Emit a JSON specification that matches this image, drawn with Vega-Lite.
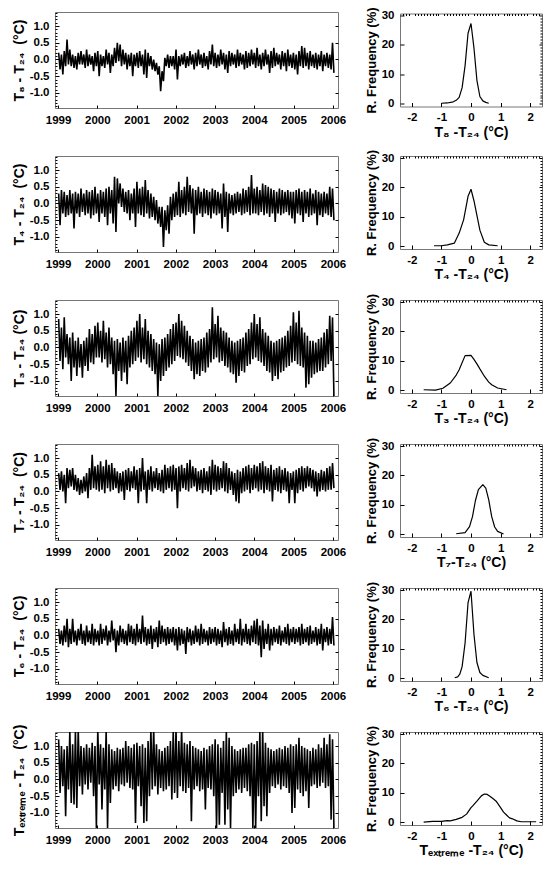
{
"$schema": "https://vega.github.io/schema/vega-lite/v6.json",
"background": "white",
"padding": {"left": 11, "top": 6, "right": 2, "bottom": 2},
"columns": 2,
"spacing": {"row": 48, "column": 62},
"bounds": "flush",
"align": "each",
"center": {"row": true},
"config": {
  "font": "Liberation Sans",
  "view": {"stroke": "#777777", "strokeWidth": 1},
  "line": {"strokeJoin": "bevel"},
  "axis": {"domain": false, "grid": false, "ticks": true, "tickColor": "black", "tickWidth": 1, "tickSize": -4,
    "labelFont": "Liberation Sans", "labelFontWeight": "bold", "labelFontSize": 11.5, "labelColor": "black",
    "labelFlush": false, "labelOverlap": false, "labelPadding": 10,
    "titleFont": "Liberation Sans", "titleFontWeight": "bold", "titleFontSize": 13, "titleColor": "black"}
},
"datasets": {
"s8": [{"d":5,"v":0.2},{"d":18,"v":-0.3},{"d":31,"v":0.15},{"d":44,"v":-0.45},{"d":57,"v":0.25},{"d":70,"v":-0.2},{"d":83,"v":0.6},{"d":96,"v":-0.15},{"d":109,"v":0.3},{"d":122,"v":-0.2},{"d":135,"v":0.15},{"d":148,"v":-0.25},{"d":161,"v":0.1},{"d":174,"v":-0.3},{"d":187,"v":0.2},{"d":200,"v":-0.15},{"d":213,"v":0.25},{"d":226,"v":-0.15},{"d":239,"v":0.15},{"d":252,"v":-0.25},{"d":265,"v":0.3},{"d":278,"v":-0.2},{"d":291,"v":0.15},{"d":304,"v":-0.15},{"d":317,"v":0.1},{"d":330,"v":-0.35},{"d":343,"v":0.2},{"d":356,"v":-0.2},
{"d":369,"v":0.25},{"d":382,"v":-0.5},{"d":395,"v":0.15},{"d":408,"v":-0.2},{"d":421,"v":0.1},{"d":434,"v":-0.25},{"d":447,"v":0.3},{"d":460,"v":-0.15},{"d":473,"v":0.2},{"d":486,"v":-0.4},{"d":499,"v":0.15},{"d":512,"v":-0.2},{"d":525,"v":0.35},{"d":538,"v":-0.1},{"d":551,"v":0.5},{"d":564,"v":-0.05},{"d":577,"v":0.45},{"d":590,"v":-0.2},{"d":603,"v":0.3},{"d":616,"v":-0.15},{"d":629,"v":0.2},{"d":642,"v":-0.3},{"d":655,"v":0.15},{"d":668,"v":-0.2},{"d":681,"v":0.2},{"d":694,"v":-0.5},{"d":707,"v":0.15},{"d":720,"v":-0.2},
{"d":733,"v":0.2},{"d":746,"v":-0.25},{"d":759,"v":0.25},{"d":772,"v":-0.2},{"d":785,"v":0.15},{"d":798,"v":-0.45},{"d":811,"v":0.3},{"d":824,"v":-0.55},{"d":837,"v":0.2},{"d":850,"v":-0.2},{"d":863,"v":0.1},{"d":876,"v":-0.3},{"d":889,"v":0},{"d":902,"v":-0.35},{"d":915,"v":-0.1},{"d":928,"v":-0.45},{"d":941,"v":-0.2},{"d":954,"v":-0.95},{"d":967,"v":-0.35},{"d":980,"v":-0.65},{"d":993,"v":0.05},{"d":1006,"v":-0.2},{"d":1019,"v":0.15},{"d":1032,"v":-0.25},{"d":1045,"v":0.1},{"d":1058,"v":-0.2},{"d":1071,"v":0.1},{"d":1084,"v":-0.3},
{"d":1097,"v":0.3},{"d":1110,"v":-0.6},{"d":1123,"v":0.1},{"d":1136,"v":-0.2},{"d":1149,"v":0.15},{"d":1162,"v":-0.15},{"d":1175,"v":0.2},{"d":1188,"v":-0.25},{"d":1201,"v":0.1},{"d":1214,"v":-0.2},{"d":1227,"v":0.25},{"d":1240,"v":-0.15},{"d":1253,"v":0.15},{"d":1266,"v":-0.3},{"d":1279,"v":0.2},{"d":1292,"v":-0.2},{"d":1305,"v":0.3},{"d":1318,"v":-0.15},{"d":1331,"v":0.15},{"d":1344,"v":-0.25},{"d":1357,"v":0.2},{"d":1370,"v":-0.2},{"d":1383,"v":0.1},{"d":1396,"v":-0.3},{"d":1409,"v":0.25},{"d":1422,"v":-0.15},{"d":1435,"v":0.45},{"d":1448,"v":-0.2},
{"d":1461,"v":0.2},{"d":1474,"v":-0.25},{"d":1487,"v":0.15},{"d":1500,"v":-0.2},{"d":1513,"v":0.3},{"d":1526,"v":-0.15},{"d":1539,"v":0.2},{"d":1552,"v":-0.3},{"d":1565,"v":0.15},{"d":1578,"v":-0.4},{"d":1591,"v":0.25},{"d":1604,"v":-0.2},{"d":1617,"v":0.2},{"d":1630,"v":-0.15},{"d":1643,"v":0.15},{"d":1656,"v":-0.25},{"d":1669,"v":0.3},{"d":1682,"v":-0.2},{"d":1695,"v":0.2},{"d":1708,"v":-0.15},{"d":1721,"v":0.15},{"d":1734,"v":-0.3},{"d":1747,"v":0.25},{"d":1760,"v":-0.25},{"d":1773,"v":0.2},{"d":1786,"v":-0.2},{"d":1799,"v":0.3},{"d":1812,"v":-0.15},
{"d":1825,"v":0.2},{"d":1838,"v":-0.25},{"d":1851,"v":0.35},{"d":1864,"v":-0.2},{"d":1877,"v":0.15},{"d":1890,"v":-0.3},{"d":1903,"v":0.2},{"d":1916,"v":-0.2},{"d":1929,"v":0.3},{"d":1942,"v":-0.15},{"d":1955,"v":0.15},{"d":1968,"v":-0.4},{"d":1981,"v":0.25},{"d":1994,"v":-0.25},{"d":2007,"v":0.35},{"d":2020,"v":-0.2},{"d":2033,"v":0.2},{"d":2046,"v":-0.15},{"d":2059,"v":0.15},{"d":2072,"v":-0.3},{"d":2085,"v":0.25},{"d":2098,"v":-0.2},{"d":2111,"v":0.2},{"d":2124,"v":-0.35},{"d":2137,"v":0.3},{"d":2150,"v":-0.2},{"d":2163,"v":0.15},{"d":2176,"v":-0.25},
{"d":2189,"v":0.2},{"d":2202,"v":-0.3},{"d":2215,"v":0.15},{"d":2228,"v":-0.45},{"d":2241,"v":0.25},{"d":2254,"v":-0.2},{"d":2267,"v":0.4},{"d":2280,"v":-0.25},{"d":2293,"v":0.35},{"d":2306,"v":-0.2},{"d":2319,"v":0.2},{"d":2332,"v":-0.3},{"d":2345,"v":0.25},{"d":2358,"v":-0.2},{"d":2371,"v":0.15},{"d":2384,"v":-0.25},{"d":2397,"v":0.2},{"d":2410,"v":-0.3},{"d":2423,"v":0.15},{"d":2436,"v":-0.2},{"d":2449,"v":0.25},{"d":2462,"v":-0.35},{"d":2475,"v":0.15},{"d":2488,"v":-0.2},{"d":2501,"v":0.2},{"d":2514,"v":-0.25},{"d":2527,"v":0.15},{"d":2540,"v":-0.3},
{"d":2553,"v":0.5},{"d":2566,"v":-0.4}],
"s4": [{"d":5,"v":0.3},{"d":18,"v":-0.65},{"d":31,"v":0.4},{"d":44,"v":-0.3},{"d":57,"v":0.35},{"d":70,"v":-0.4},{"d":83,"v":0.25},{"d":96,"v":-0.35},{"d":109,"v":0.4},{"d":122,"v":-0.3},{"d":135,"v":0.3},{"d":148,"v":-0.75},{"d":161,"v":0.35},{"d":174,"v":-0.3},{"d":187,"v":0.3},{"d":200,"v":-0.4},{"d":213,"v":0.45},{"d":226,"v":-0.25},{"d":239,"v":0.3},{"d":252,"v":-0.35},{"d":265,"v":0.4},{"d":278,"v":-0.3},{"d":291,"v":0.35},{"d":304,"v":-0.45},{"d":317,"v":0.4},{"d":330,"v":-0.35},{"d":343,"v":0.5},{"d":356,"v":-0.3},
{"d":369,"v":0.3},{"d":382,"v":-0.55},{"d":395,"v":0.4},{"d":408,"v":-0.3},{"d":421,"v":0.35},{"d":434,"v":-0.4},{"d":447,"v":0.45},{"d":460,"v":-0.65},{"d":473,"v":0.5},{"d":486,"v":-0.3},{"d":499,"v":0.4},{"d":512,"v":-0.6},{"d":525,"v":0.8},{"d":538,"v":-0.85},{"d":551,"v":0.75},{"d":564,"v":0},{"d":577,"v":0.6},{"d":590,"v":-0.1},{"d":603,"v":0.45},{"d":616,"v":-0.25},{"d":629,"v":0.35},{"d":642,"v":-0.3},{"d":655,"v":0.4},{"d":668,"v":-0.5},{"d":681,"v":0.3},{"d":694,"v":-0.3},{"d":707,"v":0.45},{"d":720,"v":-0.7},
{"d":733,"v":0.65},{"d":746,"v":-0.3},{"d":759,"v":0.45},{"d":772,"v":-0.35},{"d":785,"v":0.5},{"d":798,"v":-0.4},{"d":811,"v":0.7},{"d":824,"v":-0.3},{"d":837,"v":0.4},{"d":850,"v":-0.45},{"d":863,"v":0.3},{"d":876,"v":-0.4},{"d":889,"v":0.2},{"d":902,"v":-0.5},{"d":915,"v":0.1},{"d":928,"v":-0.6},{"d":941,"v":-0.1},{"d":954,"v":-0.7},{"d":967,"v":-0.1},{"d":980,"v":-1.3},{"d":993,"v":-0.2},{"d":1006,"v":-0.8},{"d":1019,"v":-0.05},{"d":1032,"v":-0.9},{"d":1045,"v":0.2},{"d":1058,"v":-0.5},{"d":1071,"v":0.3},{"d":1084,"v":-0.4},
{"d":1097,"v":0.35},{"d":1110,"v":-0.35},{"d":1123,"v":0.65},{"d":1136,"v":-0.4},{"d":1149,"v":0.4},{"d":1162,"v":-0.3},{"d":1175,"v":0.5},{"d":1188,"v":-0.35},{"d":1201,"v":0.8},{"d":1214,"v":-0.25},{"d":1227,"v":0.55},{"d":1240,"v":-0.3},{"d":1253,"v":0.45},{"d":1266,"v":-0.9},{"d":1279,"v":0.4},{"d":1292,"v":-0.35},{"d":1305,"v":0.5},{"d":1318,"v":-0.3},{"d":1331,"v":0.35},{"d":1344,"v":-0.4},{"d":1357,"v":0.45},{"d":1370,"v":-0.3},{"d":1383,"v":0.4},{"d":1396,"v":-0.35},{"d":1409,"v":0.35},{"d":1422,"v":-0.45},{"d":1435,"v":0.45},{"d":1448,"v":-0.3},
{"d":1461,"v":0.4},{"d":1474,"v":-0.35},{"d":1487,"v":0.35},{"d":1500,"v":-0.3},{"d":1513,"v":0.3},{"d":1526,"v":-0.75},{"d":1539,"v":0.6},{"d":1552,"v":-0.4},{"d":1565,"v":0.35},{"d":1578,"v":-0.85},{"d":1591,"v":0.3},{"d":1604,"v":-0.3},{"d":1617,"v":0.25},{"d":1630,"v":-0.35},{"d":1643,"v":0.3},{"d":1656,"v":-0.3},{"d":1669,"v":0.35},{"d":1682,"v":-0.25},{"d":1695,"v":0.3},{"d":1708,"v":-0.35},{"d":1721,"v":0.45},{"d":1734,"v":-0.3},{"d":1747,"v":0.4},{"d":1760,"v":-0.25},{"d":1773,"v":0.5},{"d":1786,"v":-0.35},{"d":1799,"v":0.85},{"d":1812,"v":-0.3},
{"d":1825,"v":0.45},{"d":1838,"v":-0.3},{"d":1851,"v":0.5},{"d":1864,"v":-0.35},{"d":1877,"v":0.4},{"d":1890,"v":-0.25},{"d":1903,"v":0.6},{"d":1916,"v":-0.35},{"d":1929,"v":0.55},{"d":1942,"v":-0.3},{"d":1955,"v":0.5},{"d":1968,"v":-0.4},{"d":1981,"v":0.45},{"d":1994,"v":-0.3},{"d":2007,"v":0.4},{"d":2020,"v":-0.55},{"d":2033,"v":0.35},{"d":2046,"v":-0.3},{"d":2059,"v":0.45},{"d":2072,"v":-0.35},{"d":2085,"v":0.4},{"d":2098,"v":-0.3},{"d":2111,"v":0.35},{"d":2124,"v":-0.25},{"d":2137,"v":0.4},{"d":2150,"v":-0.35},{"d":2163,"v":0.35},{"d":2176,"v":-0.45},
{"d":2189,"v":0.35},{"d":2202,"v":-0.6},{"d":2215,"v":0.4},{"d":2228,"v":-0.3},{"d":2241,"v":0.45},{"d":2254,"v":-0.35},{"d":2267,"v":0.35},{"d":2280,"v":-0.55},{"d":2293,"v":0.4},{"d":2306,"v":-0.3},{"d":2319,"v":0.35},{"d":2332,"v":-0.4},{"d":2345,"v":0.45},{"d":2358,"v":-0.35},{"d":2371,"v":0.3},{"d":2384,"v":-0.3},{"d":2397,"v":0.4},{"d":2410,"v":-0.65},{"d":2423,"v":0.35},{"d":2436,"v":-0.35},{"d":2449,"v":0.3},{"d":2462,"v":-0.4},{"d":2475,"v":0.35},{"d":2488,"v":-0.3},{"d":2501,"v":0.3},{"d":2514,"v":-0.35},{"d":2527,"v":0.5},{"d":2540,"v":-0.4},
{"d":2553,"v":0.45},{"d":2566,"v":-0.5}],
"s3": [{"d":5,"v":0.85},{"d":18,"v":-0.4},{"d":31,"v":0.6},{"d":44,"v":-0.65},{"d":57,"v":0.9},{"d":70,"v":-0.3},{"d":83,"v":0.4},{"d":96,"v":-0.5},{"d":109,"v":0.3},{"d":122,"v":-1.0},{"d":135,"v":0.45},{"d":148,"v":-0.6},{"d":161,"v":0.2},{"d":174,"v":-0.85},{"d":187,"v":0.3},{"d":200,"v":-0.6},{"d":213,"v":0.1},{"d":226,"v":-0.9},{"d":239,"v":0.2},{"d":252,"v":-0.55},{"d":265,"v":0.3},{"d":278,"v":-0.7},{"d":291,"v":0.55},{"d":304,"v":-0.45},{"d":317,"v":0.4},{"d":330,"v":-0.5},{"d":343,"v":0.65},{"d":356,"v":-0.3},
{"d":369,"v":0.75},{"d":382,"v":-0.3},{"d":395,"v":0.5},{"d":408,"v":-0.45},{"d":421,"v":0.8},{"d":434,"v":-0.35},{"d":447,"v":0.45},{"d":460,"v":-0.6},{"d":473,"v":0.6},{"d":486,"v":-0.5},{"d":499,"v":0.3},{"d":512,"v":-0.8},{"d":525,"v":0.2},{"d":538,"v":-1.45},{"d":551,"v":0.25},{"d":564,"v":-0.7},{"d":577,"v":0.15},{"d":590,"v":-1.0},{"d":603,"v":0.3},{"d":616,"v":-0.75},{"d":629,"v":0.2},{"d":642,"v":-1.1},{"d":655,"v":0.35},{"d":668,"v":-0.6},{"d":681,"v":0.5},{"d":694,"v":-0.5},{"d":707,"v":0.6},{"d":720,"v":-0.4},
{"d":733,"v":0.8},{"d":746,"v":-0.3},{"d":759,"v":1.0},{"d":772,"v":-0.45},{"d":785,"v":0.6},{"d":798,"v":-0.35},{"d":811,"v":0.85},{"d":824,"v":-0.5},{"d":837,"v":0.5},{"d":850,"v":-0.6},{"d":863,"v":0.4},{"d":876,"v":-0.7},{"d":889,"v":0.25},{"d":902,"v":-0.8},{"d":915,"v":0.15},{"d":928,"v":-1.45},{"d":941,"v":0.1},{"d":954,"v":-1.0},{"d":967,"v":0.25},{"d":980,"v":-0.85},{"d":993,"v":0.3},{"d":1006,"v":-0.7},{"d":1019,"v":0.4},{"d":1032,"v":-0.6},{"d":1045,"v":0.55},{"d":1058,"v":-0.5},{"d":1071,"v":0.7},{"d":1084,"v":-0.4},
{"d":1097,"v":0.75},{"d":1110,"v":-0.25},{"d":1123,"v":1.0},{"d":1136,"v":-0.3},{"d":1149,"v":0.8},{"d":1162,"v":-0.35},{"d":1175,"v":0.65},{"d":1188,"v":-0.45},{"d":1201,"v":0.5},{"d":1214,"v":-0.55},{"d":1227,"v":0.35},{"d":1240,"v":-0.7},{"d":1253,"v":0.25},{"d":1266,"v":-0.95},{"d":1279,"v":0.15},{"d":1292,"v":-0.8},{"d":1305,"v":0.2},{"d":1318,"v":-0.85},{"d":1331,"v":0.25},{"d":1344,"v":-0.7},{"d":1357,"v":0.3},{"d":1370,"v":-0.75},{"d":1383,"v":0.45},{"d":1396,"v":-0.6},{"d":1409,"v":0.55},{"d":1422,"v":-0.45},{"d":1435,"v":1.2},{"d":1448,"v":-0.35},
{"d":1461,"v":0.7},{"d":1474,"v":-0.3},{"d":1487,"v":0.95},{"d":1500,"v":-0.45},{"d":1513,"v":0.6},{"d":1526,"v":-0.4},{"d":1539,"v":0.5},{"d":1552,"v":-0.55},{"d":1565,"v":0.45},{"d":1578,"v":-0.6},{"d":1591,"v":0.3},{"d":1604,"v":-0.75},{"d":1617,"v":0.2},{"d":1630,"v":-0.8},{"d":1643,"v":0.15},{"d":1656,"v":-1.05},{"d":1669,"v":0.2},{"d":1682,"v":-0.85},{"d":1695,"v":0.25},{"d":1708,"v":-0.7},{"d":1721,"v":0.3},{"d":1734,"v":-0.75},{"d":1747,"v":0.45},{"d":1760,"v":-0.55},{"d":1773,"v":0.55},{"d":1786,"v":-0.5},{"d":1799,"v":0.75},{"d":1812,"v":-0.35},
{"d":1825,"v":1.0},{"d":1838,"v":-0.3},{"d":1851,"v":0.7},{"d":1864,"v":-0.4},{"d":1877,"v":0.9},{"d":1890,"v":-0.45},{"d":1903,"v":0.55},{"d":1916,"v":-0.55},{"d":1929,"v":0.45},{"d":1942,"v":-0.7},{"d":1955,"v":0.35},{"d":1968,"v":-0.75},{"d":1981,"v":0.2},{"d":1994,"v":-1.0},{"d":2007,"v":0.15},{"d":2020,"v":-0.85},{"d":2033,"v":0.2},{"d":2046,"v":-0.95},{"d":2059,"v":0.25},{"d":2072,"v":-0.75},{"d":2085,"v":0.3},{"d":2098,"v":-0.7},{"d":2111,"v":0.35},{"d":2124,"v":-0.6},{"d":2137,"v":0.5},{"d":2150,"v":-0.55},{"d":2163,"v":0.65},{"d":2176,"v":-0.45},
{"d":2189,"v":1.05},{"d":2202,"v":-0.4},{"d":2215,"v":0.75},{"d":2228,"v":-0.5},{"d":2241,"v":1.1},{"d":2254,"v":-0.55},{"d":2267,"v":0.6},{"d":2280,"v":-0.6},{"d":2293,"v":0.45},{"d":2306,"v":-1.2},{"d":2319,"v":0.35},{"d":2332,"v":-1.1},{"d":2345,"v":0.2},{"d":2358,"v":-0.9},{"d":2371,"v":0.2},{"d":2384,"v":-0.8},{"d":2397,"v":0.15},{"d":2410,"v":-0.75},{"d":2423,"v":0.25},{"d":2436,"v":-0.7},{"d":2449,"v":0.3},{"d":2462,"v":-0.7},{"d":2475,"v":0.45},{"d":2488,"v":-0.6},{"d":2501,"v":0.55},{"d":2514,"v":-0.5},{"d":2527,"v":0.95},{"d":2540,"v":-0.4},
{"d":2553,"v":0.9},{"d":2566,"v":-1.45}],
"s7": [{"d":5,"v":0.55},{"d":18,"v":0.05},{"d":31,"v":0.6},{"d":44,"v":0},{"d":57,"v":0.5},{"d":70,"v":-0.35},{"d":83,"v":0.7},{"d":96,"v":0.1},{"d":109,"v":0.65},{"d":122,"v":0.15},{"d":135,"v":0.7},{"d":148,"v":0.05},{"d":161,"v":0.5},{"d":174,"v":0},{"d":187,"v":0.4},{"d":200,"v":-0.1},{"d":213,"v":0.35},{"d":226,"v":-0.05},{"d":239,"v":0.45},{"d":252,"v":0},{"d":265,"v":0.55},{"d":278,"v":-0.2},{"d":291,"v":0.7},{"d":304,"v":0.05},{"d":317,"v":1.1},{"d":330,"v":0.1},{"d":343,"v":0.75},{"d":356,"v":0.05},
{"d":369,"v":0.8},{"d":382,"v":0},{"d":395,"v":0.9},{"d":408,"v":0.05},{"d":421,"v":0.75},{"d":434,"v":-0.05},{"d":447,"v":0.95},{"d":460,"v":0.1},{"d":473,"v":0.8},{"d":486,"v":0},{"d":499,"v":0.85},{"d":512,"v":0.05},{"d":525,"v":0.7},{"d":538,"v":0.1},{"d":551,"v":0.6},{"d":564,"v":-0.05},{"d":577,"v":0.55},{"d":590,"v":0},{"d":603,"v":0.6},{"d":616,"v":-0.25},{"d":629,"v":0.65},{"d":642,"v":0.05},{"d":655,"v":0.7},{"d":668,"v":0},{"d":681,"v":0.6},{"d":694,"v":0.1},{"d":707,"v":0.75},{"d":720,"v":0.05},
{"d":733,"v":0.65},{"d":746,"v":-0.35},{"d":759,"v":0.7},{"d":772,"v":0},{"d":785,"v":1.0},{"d":798,"v":0.05},{"d":811,"v":0.6},{"d":824,"v":-0.35},{"d":837,"v":0.65},{"d":850,"v":0.05},{"d":863,"v":0.75},{"d":876,"v":0},{"d":889,"v":0.6},{"d":902,"v":0.1},{"d":915,"v":0.7},{"d":928,"v":0.05},{"d":941,"v":0.55},{"d":954,"v":0},{"d":967,"v":0.65},{"d":980,"v":-0.05},{"d":993,"v":0.8},{"d":1006,"v":0.05},{"d":1019,"v":0.7},{"d":1032,"v":0.1},{"d":1045,"v":0.75},{"d":1058,"v":0},{"d":1071,"v":0.8},{"d":1084,"v":0.05},
{"d":1097,"v":0.7},{"d":1110,"v":-0.5},{"d":1123,"v":0.75},{"d":1136,"v":0},{"d":1149,"v":0.8},{"d":1162,"v":0.1},{"d":1175,"v":0.7},{"d":1188,"v":0.05},{"d":1201,"v":0.85},{"d":1214,"v":0},{"d":1227,"v":0.95},{"d":1240,"v":0.1},{"d":1253,"v":0.75},{"d":1266,"v":0.15},{"d":1279,"v":0.7},{"d":1292,"v":0},{"d":1305,"v":0.6},{"d":1318,"v":0.05},{"d":1331,"v":0.65},{"d":1344,"v":-0.05},{"d":1357,"v":0.7},{"d":1370,"v":0.05},{"d":1383,"v":0.6},{"d":1396,"v":0},{"d":1409,"v":0.75},{"d":1422,"v":-0.1},{"d":1435,"v":0.95},{"d":1448,"v":0.05},
{"d":1461,"v":0.8},{"d":1474,"v":0},{"d":1487,"v":0.75},{"d":1500,"v":0.05},{"d":1513,"v":0.7},{"d":1526,"v":0.1},{"d":1539,"v":0.9},{"d":1552,"v":0},{"d":1565,"v":0.85},{"d":1578,"v":-0.05},{"d":1591,"v":0.7},{"d":1604,"v":0.05},{"d":1617,"v":0.6},{"d":1630,"v":-0.1},{"d":1643,"v":0.55},{"d":1656,"v":-0.3},{"d":1669,"v":0.65},{"d":1682,"v":-0.35},{"d":1695,"v":0.6},{"d":1708,"v":-0.05},{"d":1721,"v":0.7},{"d":1734,"v":0},{"d":1747,"v":0.75},{"d":1760,"v":0.05},{"d":1773,"v":0.8},{"d":1786,"v":-0.05},{"d":1799,"v":0.7},{"d":1812,"v":0.05},
{"d":1825,"v":0.8},{"d":1838,"v":0.1},{"d":1851,"v":0.75},{"d":1864,"v":0},{"d":1877,"v":0.85},{"d":1890,"v":0.05},{"d":1903,"v":0.9},{"d":1916,"v":-0.05},{"d":1929,"v":0.75},{"d":1942,"v":0.05},{"d":1955,"v":0.7},{"d":1968,"v":0},{"d":1981,"v":0.8},{"d":1994,"v":-0.3},{"d":2007,"v":0.65},{"d":2020,"v":0.05},{"d":2033,"v":0.7},{"d":2046,"v":0},{"d":2059,"v":0.75},{"d":2072,"v":-0.05},{"d":2085,"v":0.65},{"d":2098,"v":0.05},{"d":2111,"v":0.7},{"d":2124,"v":0},{"d":2137,"v":0.6},{"d":2150,"v":-0.35},{"d":2163,"v":0.55},{"d":2176,"v":0.05},
{"d":2189,"v":0.6},{"d":2202,"v":-0.35},{"d":2215,"v":0.65},{"d":2228,"v":-0.05},{"d":2241,"v":0.7},{"d":2254,"v":0.05},{"d":2267,"v":0.75},{"d":2280,"v":0},{"d":2293,"v":0.7},{"d":2306,"v":0.1},{"d":2319,"v":0.75},{"d":2332,"v":0.15},{"d":2345,"v":0.7},{"d":2358,"v":0.1},{"d":2371,"v":0.65},{"d":2384,"v":0},{"d":2397,"v":0.6},{"d":2410,"v":-0.15},{"d":2423,"v":0.55},{"d":2436,"v":0},{"d":2449,"v":0.65},{"d":2462,"v":0.05},{"d":2475,"v":0.6},{"d":2488,"v":0},{"d":2501,"v":0.7},{"d":2514,"v":0.05},{"d":2527,"v":0.75},{"d":2540,"v":0.05},
{"d":2553,"v":0.85},{"d":2566,"v":0.1}],
"s6": [{"d":5,"v":0.2},{"d":18,"v":-0.25},{"d":31,"v":0.15},{"d":44,"v":-0.3},{"d":57,"v":0.3},{"d":70,"v":-0.2},{"d":83,"v":0.5},{"d":96,"v":-0.35},{"d":109,"v":0.2},{"d":122,"v":-0.25},{"d":135,"v":0.5},{"d":148,"v":-0.2},{"d":161,"v":0.15},{"d":174,"v":-0.3},{"d":187,"v":0.2},{"d":200,"v":-0.15},{"d":213,"v":0.35},{"d":226,"v":-0.25},{"d":239,"v":0.15},{"d":252,"v":-0.3},{"d":265,"v":0.3},{"d":278,"v":-0.2},{"d":291,"v":0.15},{"d":304,"v":-0.25},{"d":317,"v":0.35},{"d":330,"v":-0.3},{"d":343,"v":0.2},{"d":356,"v":-0.2},
{"d":369,"v":0.15},{"d":382,"v":-0.3},{"d":395,"v":0.35},{"d":408,"v":-0.25},{"d":421,"v":0.2},{"d":434,"v":-0.15},{"d":447,"v":0.3},{"d":460,"v":-0.3},{"d":473,"v":0.15},{"d":486,"v":-0.2},{"d":499,"v":0.45},{"d":512,"v":-0.15},{"d":525,"v":0.2},{"d":538,"v":-0.5},{"d":551,"v":0.15},{"d":564,"v":-0.3},{"d":577,"v":0.3},{"d":590,"v":-0.2},{"d":603,"v":0.2},{"d":616,"v":-0.25},{"d":629,"v":0.15},{"d":642,"v":-0.3},{"d":655,"v":0.35},{"d":668,"v":-0.2},{"d":681,"v":0.3},{"d":694,"v":-0.25},{"d":707,"v":0.2},{"d":720,"v":-0.3},
{"d":733,"v":0.35},{"d":746,"v":-0.2},{"d":759,"v":0.2},{"d":772,"v":-0.25},{"d":785,"v":0.6},{"d":798,"v":-0.2},{"d":811,"v":0.25},{"d":824,"v":-0.3},{"d":837,"v":0.2},{"d":850,"v":-0.25},{"d":863,"v":0.3},{"d":876,"v":-0.4},{"d":889,"v":0.2},{"d":902,"v":-0.2},{"d":915,"v":0.25},{"d":928,"v":-0.35},{"d":941,"v":0.45},{"d":954,"v":-0.25},{"d":967,"v":0.3},{"d":980,"v":-0.2},{"d":993,"v":0.2},{"d":1006,"v":-0.3},{"d":1019,"v":0.25},{"d":1032,"v":-0.25},{"d":1045,"v":0.2},{"d":1058,"v":-0.2},{"d":1071,"v":0.25},{"d":1084,"v":-0.3},
{"d":1097,"v":0.2},{"d":1110,"v":-0.45},{"d":1123,"v":0.25},{"d":1136,"v":-0.3},{"d":1149,"v":0.2},{"d":1162,"v":-0.25},{"d":1175,"v":0.15},{"d":1188,"v":-0.55},{"d":1201,"v":0.25},{"d":1214,"v":-0.2},{"d":1227,"v":0.2},{"d":1240,"v":-0.3},{"d":1253,"v":0.15},{"d":1266,"v":-0.25},{"d":1279,"v":0.3},{"d":1292,"v":-0.2},{"d":1305,"v":0.2},{"d":1318,"v":-0.3},{"d":1331,"v":0.35},{"d":1344,"v":-0.25},{"d":1357,"v":0.2},{"d":1370,"v":-0.2},{"d":1383,"v":0.15},{"d":1396,"v":-0.3},{"d":1409,"v":0.25},{"d":1422,"v":-0.25},{"d":1435,"v":0.2},{"d":1448,"v":-0.2},
{"d":1461,"v":0.25},{"d":1474,"v":-0.3},{"d":1487,"v":0.2},{"d":1500,"v":-0.25},{"d":1513,"v":0.15},{"d":1526,"v":-0.35},{"d":1539,"v":0.4},{"d":1552,"v":-0.2},{"d":1565,"v":0.2},{"d":1578,"v":-0.3},{"d":1591,"v":0.25},{"d":1604,"v":-0.25},{"d":1617,"v":0.15},{"d":1630,"v":-0.3},{"d":1643,"v":0.35},{"d":1656,"v":-0.2},{"d":1669,"v":0.2},{"d":1682,"v":-0.25},{"d":1695,"v":0.5},{"d":1708,"v":-0.3},{"d":1721,"v":0.2},{"d":1734,"v":-0.2},{"d":1747,"v":0.35},{"d":1760,"v":-0.25},{"d":1773,"v":0.2},{"d":1786,"v":-0.3},{"d":1799,"v":0.3},{"d":1812,"v":-0.2},
{"d":1825,"v":0.45},{"d":1838,"v":-0.25},{"d":1851,"v":0.5},{"d":1864,"v":-0.3},{"d":1877,"v":0.3},{"d":1890,"v":-0.65},{"d":1903,"v":0.45},{"d":1916,"v":-0.4},{"d":1929,"v":0.2},{"d":1942,"v":-0.25},{"d":1955,"v":0.35},{"d":1968,"v":-0.45},{"d":1981,"v":0.2},{"d":1994,"v":-0.3},{"d":2007,"v":0.25},{"d":2020,"v":-0.2},{"d":2033,"v":0.2},{"d":2046,"v":-0.25},{"d":2059,"v":0.3},{"d":2072,"v":-0.3},{"d":2085,"v":0.15},{"d":2098,"v":-0.2},{"d":2111,"v":0.25},{"d":2124,"v":-0.25},{"d":2137,"v":0.35},{"d":2150,"v":-0.3},{"d":2163,"v":0.2},{"d":2176,"v":-0.2},
{"d":2189,"v":0.25},{"d":2202,"v":-0.25},{"d":2215,"v":0.2},{"d":2228,"v":-0.2},{"d":2241,"v":0.25},{"d":2254,"v":-0.3},{"d":2267,"v":0.35},{"d":2280,"v":-0.25},{"d":2293,"v":0.2},{"d":2306,"v":-0.2},{"d":2319,"v":0.25},{"d":2332,"v":-0.3},{"d":2345,"v":0.3},{"d":2358,"v":-0.25},{"d":2371,"v":0.15},{"d":2384,"v":-0.2},{"d":2397,"v":0.25},{"d":2410,"v":-0.3},{"d":2423,"v":0.2},{"d":2436,"v":-0.25},{"d":2449,"v":0.35},{"d":2462,"v":-0.45},{"d":2475,"v":0.2},{"d":2488,"v":-0.2},{"d":2501,"v":0.25},{"d":2514,"v":-0.3},{"d":2527,"v":0.2},{"d":2540,"v":-0.25},
{"d":2553,"v":0.55},{"d":2566,"v":-0.3}],
"sx": [{"d":5,"v":1.2},{"d":18,"v":-0.4},{"d":31,"v":1.0},{"d":44,"v":-0.2},{"d":57,"v":0.9},{"d":70,"v":-1.1},{"d":83,"v":1.0},{"d":96,"v":-0.3},{"d":109,"v":1.45},{"d":122,"v":-0.7},{"d":135,"v":1.05},{"d":148,"v":-0.75},{"d":161,"v":1.45},{"d":174,"v":-0.85},{"d":187,"v":1.5},{"d":200,"v":-0.2},{"d":213,"v":1.0},{"d":226,"v":-0.45},{"d":239,"v":0.95},{"d":252,"v":-0.15},{"d":265,"v":1.05},{"d":278,"v":-0.3},{"d":291,"v":0.95},{"d":304,"v":-0.1},{"d":317,"v":1.1},{"d":330,"v":-0.5},{"d":343,"v":1.0},{"d":356,"v":-1.45},
{"d":369,"v":1.5},{"d":382,"v":-0.15},{"d":395,"v":1.05},{"d":408,"v":-0.9},{"d":421,"v":0.95},{"d":434,"v":-0.3},{"d":447,"v":1.45},{"d":460,"v":-1.45},{"d":473,"v":1.05},{"d":486,"v":-0.7},{"d":499,"v":0.9},{"d":512,"v":-0.3},{"d":525,"v":0.85},{"d":538,"v":-0.2},{"d":551,"v":0.95},{"d":564,"v":-0.35},{"d":577,"v":0.9},{"d":590,"v":-0.15},{"d":603,"v":0.95},{"d":616,"v":-0.2},{"d":629,"v":1.15},{"d":642,"v":-0.1},{"d":655,"v":1.0},{"d":668,"v":-0.25},{"d":681,"v":0.95},{"d":694,"v":-0.3},{"d":707,"v":1.05},{"d":720,"v":-1.3},
{"d":733,"v":1.1},{"d":746,"v":-0.2},{"d":759,"v":1.0},{"d":772,"v":-0.8},{"d":785,"v":1.05},{"d":798,"v":-1.3},{"d":811,"v":0.95},{"d":824,"v":-1.25},{"d":837,"v":1.15},{"d":850,"v":-0.5},{"d":863,"v":1.5},{"d":876,"v":-0.3},{"d":889,"v":1.5},{"d":902,"v":-0.2},{"d":915,"v":1.05},{"d":928,"v":-0.45},{"d":941,"v":0.9},{"d":954,"v":-0.25},{"d":967,"v":0.85},{"d":980,"v":-0.35},{"d":993,"v":0.95},{"d":1006,"v":-0.3},{"d":1019,"v":1.0},{"d":1032,"v":-0.2},{"d":1045,"v":1.15},{"d":1058,"v":-0.6},{"d":1071,"v":1.45},{"d":1084,"v":-0.4},
{"d":1097,"v":1.5},{"d":1110,"v":-0.55},{"d":1123,"v":1.15},{"d":1136,"v":-0.2},{"d":1149,"v":1.5},{"d":1162,"v":-0.35},{"d":1175,"v":1.1},{"d":1188,"v":-0.4},{"d":1201,"v":1.05},{"d":1214,"v":-0.25},{"d":1227,"v":1.15},{"d":1240,"v":-1.25},{"d":1253,"v":1.0},{"d":1266,"v":-0.3},{"d":1279,"v":0.95},{"d":1292,"v":-0.2},{"d":1305,"v":0.9},{"d":1318,"v":-0.35},{"d":1331,"v":0.85},{"d":1344,"v":-0.3},{"d":1357,"v":0.95},{"d":1370,"v":-0.9},{"d":1383,"v":0.9},{"d":1396,"v":-0.25},{"d":1409,"v":1.0},{"d":1422,"v":-0.3},{"d":1435,"v":1.05},{"d":1448,"v":-0.5},
{"d":1461,"v":1.2},{"d":1474,"v":-1.45},{"d":1487,"v":1.05},{"d":1500,"v":-1.35},{"d":1513,"v":0.95},{"d":1526,"v":-0.4},{"d":1539,"v":1.15},{"d":1552,"v":-1.35},{"d":1565,"v":1.45},{"d":1578,"v":-0.9},{"d":1591,"v":1.25},{"d":1604,"v":-1.45},{"d":1617,"v":1.0},{"d":1630,"v":-0.5},{"d":1643,"v":0.9},{"d":1656,"v":-0.4},{"d":1669,"v":0.85},{"d":1682,"v":-0.3},{"d":1695,"v":0.9},{"d":1708,"v":-0.4},{"d":1721,"v":0.95},{"d":1734,"v":-0.25},{"d":1747,"v":0.95},{"d":1760,"v":-0.35},{"d":1773,"v":1.05},{"d":1786,"v":-0.5},{"d":1799,"v":1.1},{"d":1812,"v":-1.45},
{"d":1825,"v":1.05},{"d":1838,"v":-1.45},{"d":1851,"v":1.15},{"d":1864,"v":-0.5},{"d":1877,"v":1.45},{"d":1890,"v":-1.25},{"d":1903,"v":1.5},{"d":1916,"v":-0.8},{"d":1929,"v":1.1},{"d":1942,"v":-1.1},{"d":1955,"v":0.95},{"d":1968,"v":-0.4},{"d":1981,"v":0.9},{"d":1994,"v":-0.2},{"d":2007,"v":0.85},{"d":2020,"v":-0.25},{"d":2033,"v":0.9},{"d":2046,"v":-0.15},{"d":2059,"v":0.95},{"d":2072,"v":-0.3},{"d":2085,"v":0.9},{"d":2098,"v":-0.2},{"d":2111,"v":1.0},{"d":2124,"v":-0.25},{"d":2137,"v":0.95},{"d":2150,"v":-0.4},{"d":2163,"v":1.05},{"d":2176,"v":-1.0},
{"d":2189,"v":1.0},{"d":2202,"v":-0.85},{"d":2215,"v":1.05},{"d":2228,"v":-0.3},{"d":2241,"v":1.25},{"d":2254,"v":-0.4},{"d":2267,"v":1.0},{"d":2280,"v":-0.5},{"d":2293,"v":0.95},{"d":2306,"v":-0.35},{"d":2319,"v":0.9},{"d":2332,"v":-0.85},{"d":2345,"v":0.85},{"d":2358,"v":-0.2},{"d":2371,"v":0.95},{"d":2384,"v":-0.15},{"d":2397,"v":0.9},{"d":2410,"v":-0.25},{"d":2423,"v":1.05},{"d":2436,"v":-0.2},{"d":2449,"v":0.95},{"d":2462,"v":-0.1},{"d":2475,"v":1.25},{"d":2488,"v":-0.25},{"d":2501,"v":1.05},{"d":2514,"v":-0.2},{"d":2527,"v":1.35},{"d":2540,"v":-1.2},
{"d":2553,"v":1.2},{"d":2566,"v":-1.45}],
"f8": [{"x":-1.0,"y":0.2},{"x":-0.8,"y":0.3},{"x":-0.6,"y":0.7},{"x":-0.5,"y":1.2},{"x":-0.4,"y":2.2},{"x":-0.3,"y":5.5},{"x":-0.2,"y":13},{"x":-0.1,"y":24},{"x":0,"y":27.3},{"x":0.1,"y":19},{"x":0.2,"y":8},{"x":0.3,"y":2.5},{"x":0.4,"y":1},{"x":0.5,"y":0.5},{"x":0.6,"y":0.2}],
"f4": [{"x":-1.25,"y":0.2},{"x":-1.0,"y":0.2},{"x":-0.8,"y":0.5},{"x":-0.56,"y":1.1},{"x":-0.4,"y":4.5},{"x":-0.25,"y":9},{"x":-0.1,"y":17},{"x":0,"y":19.4},{"x":0.1,"y":15.5},{"x":0.2,"y":10.5},{"x":0.3,"y":5.5},{"x":0.45,"y":1.4},{"x":0.6,"y":0.5},{"x":0.9,"y":0.2}],
"f3": [{"x":-1.6,"y":0.2},{"x":-1.2,"y":0.1},{"x":-0.95,"y":0.7},{"x":-0.7,"y":2.5},{"x":-0.5,"y":5.2},{"x":-0.4,"y":7},{"x":-0.2,"y":11.8},{"x":0,"y":11.9},{"x":0.1,"y":10.5},{"x":0.2,"y":9},{"x":0.3,"y":7.3},{"x":0.45,"y":4.8},{"x":0.6,"y":2.8},{"x":0.7,"y":1.9},{"x":0.9,"y":0.8},{"x":1.2,"y":0.2}],
"f7": [{"x":-0.5,"y":0.2},{"x":-0.2,"y":0.6},{"x":-0.05,"y":2.6},{"x":0.05,"y":6},{"x":0.15,"y":11.5},{"x":0.25,"y":15.2},{"x":0.4,"y":16.9},{"x":0.5,"y":15.7},{"x":0.6,"y":11.7},{"x":0.7,"y":6},{"x":0.8,"y":2.5},{"x":0.9,"y":1},{"x":1.1,"y":0.1}],
"f6": [{"x":-0.55,"y":0.2},{"x":-0.45,"y":0.5},{"x":-0.38,"y":1.4},{"x":-0.3,"y":4},{"x":-0.2,"y":12},{"x":-0.1,"y":25.7},{"x":0,"y":29.6},{"x":0.1,"y":15},{"x":0.2,"y":5.4},{"x":0.3,"y":2},{"x":0.4,"y":1},{"x":0.6,"y":0.2}],
"fx": [{"x":-1.6,"y":0.1},{"x":-1.3,"y":0.3},{"x":-1.0,"y":0.3},{"x":-0.8,"y":0.6},{"x":-0.7,"y":0.5},{"x":-0.5,"y":1.0},{"x":-0.3,"y":1.7},{"x":-0.15,"y":2.8},{"x":0,"y":5},{"x":0.05,"y":5.5},{"x":0.2,"y":7.2},{"x":0.35,"y":9},{"x":0.45,"y":9.6},{"x":0.55,"y":9.5},{"x":0.65,"y":8.8},{"x":0.75,"y":8},{"x":0.85,"y":7.2},{"x":1.0,"y":5},{"x":1.1,"y":3.5},{"x":1.2,"y":2.5},{"x":1.3,"y":1.5},{"x":1.4,"y":1.2},{"x":1.55,"y":0.5},{"x":1.7,"y":0.2},{"x":2.2,"y":0.2}]
},
"concat": [
{"width":283,"height":96,"data":{"name":"s8"},"resolve":{"axis":{"x":"independent","y":"independent"}},"layer":[
 {"mark":{"type":"line","color":"black","strokeWidth":1.6,"clip":true},"encoding":{
  "x":{"field":"d","type":"quantitative","scale":{"domain":[-29,2604],"nice":false,"zero":false},"axis":{"values":[0,365,730,1096,1461,1826,2191,2557],"labelExpr":"1999 + round(datum.value / 365.25)","tickSize":-3,"labelPadding":9,"title":null}},
  "y":{"field":"v","type":"quantitative","scale":{"domain":[-1.45,1.42],"nice":false,"zero":false},"axis":{"values":[-1,-0.5,0,0.5,1],"format":".1f","labelExpr":"replace(datum.label,'−','-')","title":"T₈ - T₂₄\u00a0 (°C)","titleFontSize":14,"titlePadding":3}}}},
 {"mark":{"type":"point","opacity":0},"encoding":{
  "x":{"field":"d","type":"quantitative","scale":{"domain":[-29,2604],"nice":false,"zero":false},"axis":null},
  "y":{"field":"v","type":"quantitative","scale":{"domain":[-1.45,1.42],"nice":false,"zero":false},"axis":{"orient":"right","values":[-1,-0.5,0,0.5,1],"labels":false,"tickSize":-3,"title":null}}}},
 {"mark":{"type":"point","opacity":0},"encoding":{
  "x":{"field":"d","type":"quantitative","scale":{"domain":[-29,2604],"nice":false,"zero":false},"axis":null},
  "y":{"field":"v","type":"quantitative","scale":{"domain":[-1.45,1.42],"nice":false,"zero":false},"axis":{"orient":"left","values":[-1.4,-1.3,-1.2,-1.1,-0.9,-0.8,-0.7,-0.6,-0.4,-0.3,-0.2,-0.1,0.1,0.2,0.3,0.4,0.6,0.7,0.8,0.9,1.1,1.2,1.3,1.4],"labels":false,"tickSize":-2,"title":null}}}}]},
{"width":142,"height":93,"data":{"name":"f8"},"resolve":{"axis":{"x":"independent","y":"independent"}},"layer":[
 {"mark":{"type":"line","color":"black","strokeWidth":1.2},"encoding":{
  "x":{"field":"x","type":"quantitative","scale":{"domain":[-2.4,2.4],"nice":false,"zero":false},"axis":{"values":[-2,-1,0,1,2],"format":"d","labelExpr":"replace(datum.label,'−','-')","labelPadding":9,"title":"T₈ -T₂₄ (°C)","titleFontSize":14,"titlePadding":2}},
  "y":{"field":"y","type":"quantitative","scale":{"domain":[-0.9,30.7],"nice":false,"zero":false},"axis":{"values":[0,10,20,30],"title":"R. Frequency (%)","titlePadding":3}}}},
 {"mark":{"type":"point","opacity":0},"encoding":{
  "x":{"field":"x","type":"quantitative","scale":{"domain":[-2.4,2.4],"nice":false,"zero":false},"axis":{"values":[-2.3,-2.2,-2.1,-1.9,-1.8,-1.7,-1.6,-1.5,-1.4,-1.3,-1.2,-1.1,-0.9,-0.8,-0.7,-0.6,-0.5,-0.4,-0.3,-0.2,-0.1,0.1,0.2,0.3,0.4,0.5,0.6,0.7,0.8,0.9,1.1,1.2,1.3,1.4,1.5,1.6,1.7,1.8,1.9,2.1,2.2,2.3],"labels":false,"tickSize":-2,"title":null}},
  "y":{"field":"y","type":"quantitative","scale":{"domain":[-0.9,30.7],"nice":false,"zero":false},"axis":{"values":[1,2,3,4,5,6,7,8,9,11,12,13,14,15,16,17,18,19,21,22,23,24,25,26,27,28,29],"labels":false,"tickSize":-2,"title":null}}}},
 {"mark":{"type":"point","opacity":0},"encoding":{
  "x":{"field":"x","type":"quantitative","scale":{"domain":[-2.4,2.4],"nice":false,"zero":false},"axis":null},
  "y":{"field":"y","type":"quantitative","scale":{"domain":[-0.9,30.7],"nice":false,"zero":false},"axis":{"orient":"right","values":[0,10,20,30],"labels":false,"tickSize":-3,"title":null}}}}]},
{"width":283,"height":96,"data":{"name":"s4"},"resolve":{"axis":{"x":"independent","y":"independent"}},"layer":[
 {"mark":{"type":"line","color":"black","strokeWidth":1.6,"clip":true},"encoding":{
  "x":{"field":"d","type":"quantitative","scale":{"domain":[-29,2604],"nice":false,"zero":false},"axis":{"values":[0,365,730,1096,1461,1826,2191,2557],"labelExpr":"1999 + round(datum.value / 365.25)","tickSize":-3,"labelPadding":9,"title":null}},
  "y":{"field":"v","type":"quantitative","scale":{"domain":[-1.45,1.42],"nice":false,"zero":false},"axis":{"values":[-1,-0.5,0,0.5,1],"format":".1f","labelExpr":"replace(datum.label,'−','-')","title":"T₄ - T₂₄\u00a0 (°C)","titleFontSize":14,"titlePadding":3}}}},
 {"mark":{"type":"point","opacity":0},"encoding":{
  "x":{"field":"d","type":"quantitative","scale":{"domain":[-29,2604],"nice":false,"zero":false},"axis":null},
  "y":{"field":"v","type":"quantitative","scale":{"domain":[-1.45,1.42],"nice":false,"zero":false},"axis":{"orient":"right","values":[-1,-0.5,0,0.5,1],"labels":false,"tickSize":-3,"title":null}}}},
 {"mark":{"type":"point","opacity":0},"encoding":{
  "x":{"field":"d","type":"quantitative","scale":{"domain":[-29,2604],"nice":false,"zero":false},"axis":null},
  "y":{"field":"v","type":"quantitative","scale":{"domain":[-1.45,1.42],"nice":false,"zero":false},"axis":{"orient":"left","values":[-1.4,-1.3,-1.2,-1.1,-0.9,-0.8,-0.7,-0.6,-0.4,-0.3,-0.2,-0.1,0.1,0.2,0.3,0.4,0.6,0.7,0.8,0.9,1.1,1.2,1.3,1.4],"labels":false,"tickSize":-2,"title":null}}}}]},
{"width":142,"height":93,"data":{"name":"f4"},"resolve":{"axis":{"x":"independent","y":"independent"}},"layer":[
 {"mark":{"type":"line","color":"black","strokeWidth":1.2},"encoding":{
  "x":{"field":"x","type":"quantitative","scale":{"domain":[-2.4,2.4],"nice":false,"zero":false},"axis":{"values":[-2,-1,0,1,2],"format":"d","labelExpr":"replace(datum.label,'−','-')","labelPadding":9,"title":"T₄ -T₂₄ (°C)","titleFontSize":14,"titlePadding":2}},
  "y":{"field":"y","type":"quantitative","scale":{"domain":[-0.9,30.7],"nice":false,"zero":false},"axis":{"values":[0,10,20,30],"title":"R. Frequency (%)","titlePadding":3}}}},
 {"mark":{"type":"point","opacity":0},"encoding":{
  "x":{"field":"x","type":"quantitative","scale":{"domain":[-2.4,2.4],"nice":false,"zero":false},"axis":{"values":[-2.3,-2.2,-2.1,-1.9,-1.8,-1.7,-1.6,-1.5,-1.4,-1.3,-1.2,-1.1,-0.9,-0.8,-0.7,-0.6,-0.5,-0.4,-0.3,-0.2,-0.1,0.1,0.2,0.3,0.4,0.5,0.6,0.7,0.8,0.9,1.1,1.2,1.3,1.4,1.5,1.6,1.7,1.8,1.9,2.1,2.2,2.3],"labels":false,"tickSize":-2,"title":null}},
  "y":{"field":"y","type":"quantitative","scale":{"domain":[-0.9,30.7],"nice":false,"zero":false},"axis":{"values":[1,2,3,4,5,6,7,8,9,11,12,13,14,15,16,17,18,19,21,22,23,24,25,26,27,28,29],"labels":false,"tickSize":-2,"title":null}}}},
 {"mark":{"type":"point","opacity":0},"encoding":{
  "x":{"field":"x","type":"quantitative","scale":{"domain":[-2.4,2.4],"nice":false,"zero":false},"axis":null},
  "y":{"field":"y","type":"quantitative","scale":{"domain":[-0.9,30.7],"nice":false,"zero":false},"axis":{"orient":"right","values":[0,10,20,30],"labels":false,"tickSize":-3,"title":null}}}}]},
{"width":283,"height":96,"data":{"name":"s3"},"resolve":{"axis":{"x":"independent","y":"independent"}},"layer":[
 {"mark":{"type":"line","color":"black","strokeWidth":1.6,"clip":true},"encoding":{
  "x":{"field":"d","type":"quantitative","scale":{"domain":[-29,2604],"nice":false,"zero":false},"axis":{"values":[0,365,730,1096,1461,1826,2191,2557],"labelExpr":"1999 + round(datum.value / 365.25)","tickSize":-3,"labelPadding":9,"title":null}},
  "y":{"field":"v","type":"quantitative","scale":{"domain":[-1.45,1.42],"nice":false,"zero":false},"axis":{"values":[-1,-0.5,0,0.5,1],"format":".1f","labelExpr":"replace(datum.label,'−','-')","title":"T₃ - T₂₄ (°C)","titleFontSize":14,"titlePadding":3}}}},
 {"mark":{"type":"point","opacity":0},"encoding":{
  "x":{"field":"d","type":"quantitative","scale":{"domain":[-29,2604],"nice":false,"zero":false},"axis":null},
  "y":{"field":"v","type":"quantitative","scale":{"domain":[-1.45,1.42],"nice":false,"zero":false},"axis":{"orient":"right","values":[-1,-0.5,0,0.5,1],"labels":false,"tickSize":-3,"title":null}}}},
 {"mark":{"type":"point","opacity":0},"encoding":{
  "x":{"field":"d","type":"quantitative","scale":{"domain":[-29,2604],"nice":false,"zero":false},"axis":null},
  "y":{"field":"v","type":"quantitative","scale":{"domain":[-1.45,1.42],"nice":false,"zero":false},"axis":{"orient":"left","values":[-1.4,-1.3,-1.2,-1.1,-0.9,-0.8,-0.7,-0.6,-0.4,-0.3,-0.2,-0.1,0.1,0.2,0.3,0.4,0.6,0.7,0.8,0.9,1.1,1.2,1.3,1.4],"labels":false,"tickSize":-2,"title":null}}}}]},
{"width":142,"height":93,"data":{"name":"f3"},"resolve":{"axis":{"x":"independent","y":"independent"}},"layer":[
 {"mark":{"type":"line","color":"black","strokeWidth":1.2},"encoding":{
  "x":{"field":"x","type":"quantitative","scale":{"domain":[-2.4,2.4],"nice":false,"zero":false},"axis":{"values":[-2,-1,0,1,2],"format":"d","labelExpr":"replace(datum.label,'−','-')","labelPadding":9,"title":"T₃ -T₂₄ (°C)","titleFontSize":14,"titlePadding":2}},
  "y":{"field":"y","type":"quantitative","scale":{"domain":[-0.9,30.7],"nice":false,"zero":false},"axis":{"values":[0,10,20,30],"title":"R. Frequency (%)","titlePadding":3}}}},
 {"mark":{"type":"point","opacity":0},"encoding":{
  "x":{"field":"x","type":"quantitative","scale":{"domain":[-2.4,2.4],"nice":false,"zero":false},"axis":{"values":[-2.3,-2.2,-2.1,-1.9,-1.8,-1.7,-1.6,-1.5,-1.4,-1.3,-1.2,-1.1,-0.9,-0.8,-0.7,-0.6,-0.5,-0.4,-0.3,-0.2,-0.1,0.1,0.2,0.3,0.4,0.5,0.6,0.7,0.8,0.9,1.1,1.2,1.3,1.4,1.5,1.6,1.7,1.8,1.9,2.1,2.2,2.3],"labels":false,"tickSize":-2,"title":null}},
  "y":{"field":"y","type":"quantitative","scale":{"domain":[-0.9,30.7],"nice":false,"zero":false},"axis":{"values":[1,2,3,4,5,6,7,8,9,11,12,13,14,15,16,17,18,19,21,22,23,24,25,26,27,28,29],"labels":false,"tickSize":-2,"title":null}}}},
 {"mark":{"type":"point","opacity":0},"encoding":{
  "x":{"field":"x","type":"quantitative","scale":{"domain":[-2.4,2.4],"nice":false,"zero":false},"axis":null},
  "y":{"field":"y","type":"quantitative","scale":{"domain":[-0.9,30.7],"nice":false,"zero":false},"axis":{"orient":"right","values":[0,10,20,30],"labels":false,"tickSize":-3,"title":null}}}}]},
{"width":283,"height":96,"data":{"name":"s7"},"resolve":{"axis":{"x":"independent","y":"independent"}},"layer":[
 {"mark":{"type":"line","color":"black","strokeWidth":1.6,"clip":true},"encoding":{
  "x":{"field":"d","type":"quantitative","scale":{"domain":[-29,2604],"nice":false,"zero":false},"axis":{"values":[0,365,730,1096,1461,1826,2191,2557],"labelExpr":"1999 + round(datum.value / 365.25)","tickSize":-3,"labelPadding":9,"title":null}},
  "y":{"field":"v","type":"quantitative","scale":{"domain":[-1.45,1.42],"nice":false,"zero":false},"axis":{"values":[-1,-0.5,0,0.5,1],"format":".1f","labelExpr":"replace(datum.label,'−','-')","title":"T₇ - T₂₄\u00a0 (°C)","titleFontSize":14,"titlePadding":3}}}},
 {"mark":{"type":"point","opacity":0},"encoding":{
  "x":{"field":"d","type":"quantitative","scale":{"domain":[-29,2604],"nice":false,"zero":false},"axis":null},
  "y":{"field":"v","type":"quantitative","scale":{"domain":[-1.45,1.42],"nice":false,"zero":false},"axis":{"orient":"right","values":[-1,-0.5,0,0.5,1],"labels":false,"tickSize":-3,"title":null}}}},
 {"mark":{"type":"point","opacity":0},"encoding":{
  "x":{"field":"d","type":"quantitative","scale":{"domain":[-29,2604],"nice":false,"zero":false},"axis":null},
  "y":{"field":"v","type":"quantitative","scale":{"domain":[-1.45,1.42],"nice":false,"zero":false},"axis":{"orient":"left","values":[-1.4,-1.3,-1.2,-1.1,-0.9,-0.8,-0.7,-0.6,-0.4,-0.3,-0.2,-0.1,0.1,0.2,0.3,0.4,0.6,0.7,0.8,0.9,1.1,1.2,1.3,1.4],"labels":false,"tickSize":-2,"title":null}}}}]},
{"width":142,"height":93,"data":{"name":"f7"},"resolve":{"axis":{"x":"independent","y":"independent"}},"layer":[
 {"mark":{"type":"line","color":"black","strokeWidth":1.2},"encoding":{
  "x":{"field":"x","type":"quantitative","scale":{"domain":[-2.4,2.4],"nice":false,"zero":false},"axis":{"values":[-2,-1,0,1,2],"format":"d","labelExpr":"replace(datum.label,'−','-')","labelPadding":9,"title":"T₇-T₂₄ (°C)","titleFontSize":14,"titlePadding":2}},
  "y":{"field":"y","type":"quantitative","scale":{"domain":[-0.9,30.7],"nice":false,"zero":false},"axis":{"values":[0,10,20,30],"title":"R. Frequency (%)","titlePadding":3}}}},
 {"mark":{"type":"point","opacity":0},"encoding":{
  "x":{"field":"x","type":"quantitative","scale":{"domain":[-2.4,2.4],"nice":false,"zero":false},"axis":{"values":[-2.3,-2.2,-2.1,-1.9,-1.8,-1.7,-1.6,-1.5,-1.4,-1.3,-1.2,-1.1,-0.9,-0.8,-0.7,-0.6,-0.5,-0.4,-0.3,-0.2,-0.1,0.1,0.2,0.3,0.4,0.5,0.6,0.7,0.8,0.9,1.1,1.2,1.3,1.4,1.5,1.6,1.7,1.8,1.9,2.1,2.2,2.3],"labels":false,"tickSize":-2,"title":null}},
  "y":{"field":"y","type":"quantitative","scale":{"domain":[-0.9,30.7],"nice":false,"zero":false},"axis":{"values":[1,2,3,4,5,6,7,8,9,11,12,13,14,15,16,17,18,19,21,22,23,24,25,26,27,28,29],"labels":false,"tickSize":-2,"title":null}}}},
 {"mark":{"type":"point","opacity":0},"encoding":{
  "x":{"field":"x","type":"quantitative","scale":{"domain":[-2.4,2.4],"nice":false,"zero":false},"axis":null},
  "y":{"field":"y","type":"quantitative","scale":{"domain":[-0.9,30.7],"nice":false,"zero":false},"axis":{"orient":"right","values":[0,10,20,30],"labels":false,"tickSize":-3,"title":null}}}}]},
{"width":283,"height":96,"data":{"name":"s6"},"resolve":{"axis":{"x":"independent","y":"independent"}},"layer":[
 {"mark":{"type":"line","color":"black","strokeWidth":1.6,"clip":true},"encoding":{
  "x":{"field":"d","type":"quantitative","scale":{"domain":[-29,2604],"nice":false,"zero":false},"axis":{"values":[0,365,730,1096,1461,1826,2191,2557],"labelExpr":"1999 + round(datum.value / 365.25)","tickSize":-3,"labelPadding":9,"title":null}},
  "y":{"field":"v","type":"quantitative","scale":{"domain":[-1.45,1.42],"nice":false,"zero":false},"axis":{"values":[-1,-0.5,0,0.5,1],"format":".1f","labelExpr":"replace(datum.label,'−','-')","title":"T₆ - T₂₄\u00a0 (°C)","titleFontSize":14,"titlePadding":3}}}},
 {"mark":{"type":"point","opacity":0},"encoding":{
  "x":{"field":"d","type":"quantitative","scale":{"domain":[-29,2604],"nice":false,"zero":false},"axis":null},
  "y":{"field":"v","type":"quantitative","scale":{"domain":[-1.45,1.42],"nice":false,"zero":false},"axis":{"orient":"right","values":[-1,-0.5,0,0.5,1],"labels":false,"tickSize":-3,"title":null}}}},
 {"mark":{"type":"point","opacity":0},"encoding":{
  "x":{"field":"d","type":"quantitative","scale":{"domain":[-29,2604],"nice":false,"zero":false},"axis":null},
  "y":{"field":"v","type":"quantitative","scale":{"domain":[-1.45,1.42],"nice":false,"zero":false},"axis":{"orient":"left","values":[-1.4,-1.3,-1.2,-1.1,-0.9,-0.8,-0.7,-0.6,-0.4,-0.3,-0.2,-0.1,0.1,0.2,0.3,0.4,0.6,0.7,0.8,0.9,1.1,1.2,1.3,1.4],"labels":false,"tickSize":-2,"title":null}}}}]},
{"width":142,"height":93,"data":{"name":"f6"},"resolve":{"axis":{"x":"independent","y":"independent"}},"layer":[
 {"mark":{"type":"line","color":"black","strokeWidth":1.2},"encoding":{
  "x":{"field":"x","type":"quantitative","scale":{"domain":[-2.4,2.4],"nice":false,"zero":false},"axis":{"values":[-2,-1,0,1,2],"format":"d","labelExpr":"replace(datum.label,'−','-')","labelPadding":9,"title":"T₆ -T₂₄ (°C)","titleFontSize":14,"titlePadding":2}},
  "y":{"field":"y","type":"quantitative","scale":{"domain":[-0.9,30.7],"nice":false,"zero":false},"axis":{"values":[0,10,20,30],"title":"R. Frequency (%)","titlePadding":3}}}},
 {"mark":{"type":"point","opacity":0},"encoding":{
  "x":{"field":"x","type":"quantitative","scale":{"domain":[-2.4,2.4],"nice":false,"zero":false},"axis":{"values":[-2.3,-2.2,-2.1,-1.9,-1.8,-1.7,-1.6,-1.5,-1.4,-1.3,-1.2,-1.1,-0.9,-0.8,-0.7,-0.6,-0.5,-0.4,-0.3,-0.2,-0.1,0.1,0.2,0.3,0.4,0.5,0.6,0.7,0.8,0.9,1.1,1.2,1.3,1.4,1.5,1.6,1.7,1.8,1.9,2.1,2.2,2.3],"labels":false,"tickSize":-2,"title":null}},
  "y":{"field":"y","type":"quantitative","scale":{"domain":[-0.9,30.7],"nice":false,"zero":false},"axis":{"values":[1,2,3,4,5,6,7,8,9,11,12,13,14,15,16,17,18,19,21,22,23,24,25,26,27,28,29],"labels":false,"tickSize":-2,"title":null}}}},
 {"mark":{"type":"point","opacity":0},"encoding":{
  "x":{"field":"x","type":"quantitative","scale":{"domain":[-2.4,2.4],"nice":false,"zero":false},"axis":null},
  "y":{"field":"y","type":"quantitative","scale":{"domain":[-0.9,30.7],"nice":false,"zero":false},"axis":{"orient":"right","values":[0,10,20,30],"labels":false,"tickSize":-3,"title":null}}}}]},
{"width":283,"height":96,"data":{"name":"sx"},"resolve":{"axis":{"x":"independent","y":"independent"}},"layer":[
 {"mark":{"type":"line","color":"black","strokeWidth":1.6,"clip":true},"encoding":{
  "x":{"field":"d","type":"quantitative","scale":{"domain":[-29,2604],"nice":false,"zero":false},"axis":{"values":[0,365,730,1096,1461,1826,2191,2557],"labelExpr":"1999 + round(datum.value / 365.25)","tickSize":-3,"labelPadding":9,"title":null}},
  "y":{"field":"v","type":"quantitative","scale":{"domain":[-1.45,1.42],"nice":false,"zero":false},"axis":{"values":[-1,-0.5,0,0.5,1],"format":".1f","labelExpr":"replace(datum.label,'−','-')","title":"Tₑₓₜᵣₑₘₑ - T₂₄\u00a0 (°C)","titleFontSize":14,"titlePadding":3}}}},
 {"mark":{"type":"point","opacity":0},"encoding":{
  "x":{"field":"d","type":"quantitative","scale":{"domain":[-29,2604],"nice":false,"zero":false},"axis":null},
  "y":{"field":"v","type":"quantitative","scale":{"domain":[-1.45,1.42],"nice":false,"zero":false},"axis":{"orient":"right","values":[-1,-0.5,0,0.5,1],"labels":false,"tickSize":-3,"title":null}}}},
 {"mark":{"type":"point","opacity":0},"encoding":{
  "x":{"field":"d","type":"quantitative","scale":{"domain":[-29,2604],"nice":false,"zero":false},"axis":null},
  "y":{"field":"v","type":"quantitative","scale":{"domain":[-1.45,1.42],"nice":false,"zero":false},"axis":{"orient":"left","values":[-1.4,-1.3,-1.2,-1.1,-0.9,-0.8,-0.7,-0.6,-0.4,-0.3,-0.2,-0.1,0.1,0.2,0.3,0.4,0.6,0.7,0.8,0.9,1.1,1.2,1.3,1.4],"labels":false,"tickSize":-2,"title":null}}}}]},
{"width":142,"height":93,"data":{"name":"fx"},"resolve":{"axis":{"x":"independent","y":"independent"}},"layer":[
 {"mark":{"type":"line","color":"black","strokeWidth":1.2},"encoding":{
  "x":{"field":"x","type":"quantitative","scale":{"domain":[-2.4,2.4],"nice":false,"zero":false},"axis":{"values":[-2,-1,0,1,2],"format":"d","labelExpr":"replace(datum.label,'−','-')","labelPadding":9,"title":"Tₑₓₜᵣₑₘₑ -T₂₄ (°C)","titleFontSize":14,"titlePadding":2}},
  "y":{"field":"y","type":"quantitative","scale":{"domain":[-0.9,30.7],"nice":false,"zero":false},"axis":{"values":[0,10,20,30],"title":"R. Frequency (%)","titlePadding":3}}}},
 {"mark":{"type":"point","opacity":0},"encoding":{
  "x":{"field":"x","type":"quantitative","scale":{"domain":[-2.4,2.4],"nice":false,"zero":false},"axis":{"values":[-2.3,-2.2,-2.1,-1.9,-1.8,-1.7,-1.6,-1.5,-1.4,-1.3,-1.2,-1.1,-0.9,-0.8,-0.7,-0.6,-0.5,-0.4,-0.3,-0.2,-0.1,0.1,0.2,0.3,0.4,0.5,0.6,0.7,0.8,0.9,1.1,1.2,1.3,1.4,1.5,1.6,1.7,1.8,1.9,2.1,2.2,2.3],"labels":false,"tickSize":-2,"title":null}},
  "y":{"field":"y","type":"quantitative","scale":{"domain":[-0.9,30.7],"nice":false,"zero":false},"axis":{"values":[1,2,3,4,5,6,7,8,9,11,12,13,14,15,16,17,18,19,21,22,23,24,25,26,27,28,29],"labels":false,"tickSize":-2,"title":null}}}},
 {"mark":{"type":"point","opacity":0},"encoding":{
  "x":{"field":"x","type":"quantitative","scale":{"domain":[-2.4,2.4],"nice":false,"zero":false},"axis":null},
  "y":{"field":"y","type":"quantitative","scale":{"domain":[-0.9,30.7],"nice":false,"zero":false},"axis":{"orient":"right","values":[0,10,20,30],"labels":false,"tickSize":-3,"title":null}}}}]}
]
}
